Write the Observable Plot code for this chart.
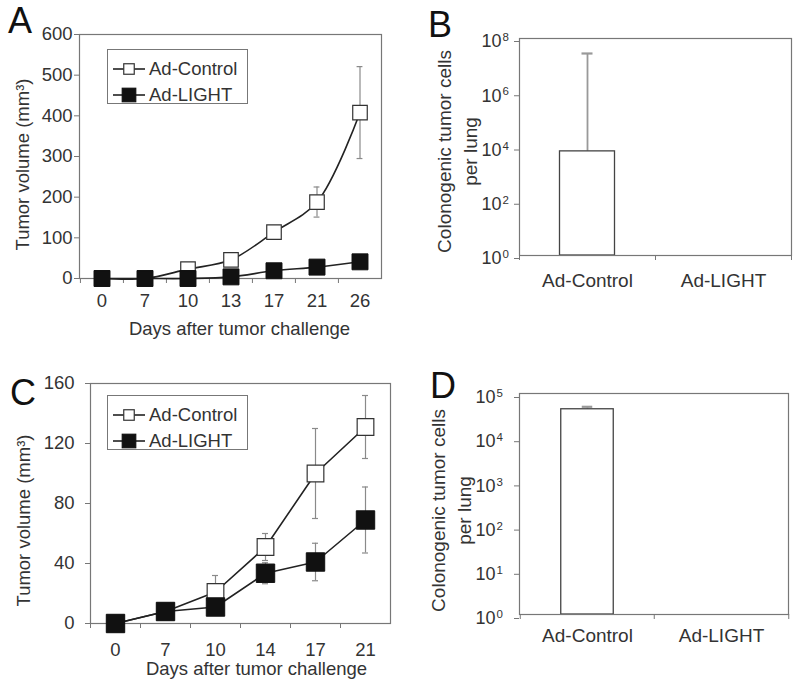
<!DOCTYPE html>
<html><head><meta charset="utf-8">
<script src="https://cdn.jsdelivr.net/npm/d3@7"></script>
<script src="https://cdn.jsdelivr.net/npm/@observablehq/plot@0.6"></script>
<style>
body{margin:0;background:#fff;}
#fig{position:relative;width:800px;height:688px;font-family:"Liberation Sans",Arial,sans-serif;color:#333;overflow:hidden;}
.panel{position:absolute;}
.letter{position:absolute;font-size:36px;line-height:1;color:#111;}
.legend{position:absolute;border:1.2px solid #777;box-sizing:border-box;background:#fff;font-size:18.5px;width:141px;}
.legend .lab{position:absolute;left:41px;line-height:1;white-space:nowrap;color:#333;}
.legend svg{position:absolute;left:5px;}
</style></head><body><div id="fig"></div>
<script>
// ---------- data ----------
const daysA = ["0","7","10","13","17","21","26"];
const controlA = [0, 0, 23, 46, 114, 188, 408];
const controlAErr = [0, 0, 0, 0, 0, 37, 113];
const lightA = [0, 0, 0, 4, 19, 28, 41];
const lightAErr = [0, 0, 0, 0, 0, 0, 0];
const yTicksA = [0, 100, 200, 300, 400, 500, 600];

const daysC = ["0","7","10","14","17","21"];
const controlC = [0, 8, 21, 51, 100, 131];
const controlCErr = [0, 1, 11, 9, 30, 21];
const lightC = [0, 8, 11, 33.5, 41, 69];
const lightCErr = [0, 1, 3, 7, 12.5, 22];
const yTicksC = [0, 40, 80, 120, 160];

const groups = ["Ad-Control", "Ad-LIGHT"];
const coloniesB = [6900, 0];
const coloniesBUpper = [2.8e7, 0];
const ticksB = [1, 1e2, 1e4, 1e6, 1e8];
const coloniesD = [44000, 0];
const coloniesDUpper = [50000, 0];
const ticksD = [1, 1e1, 1e2, 1e3, 1e4, 1e5];

const seriesNames = ["Ad-Control", "Ad-LIGHT"];
const xTitle = "Days after tumor challenge";
const yTitleLine = "Tumor volume (mm³)";
const yTitleBar = "Colonogenic tumor cells\nper lung";

// ---------- helpers ----------
const fig = document.getElementById("fig");
const baseStyle = {fontFamily: '"Liberation Sans", Arial, sans-serif', fontSize: "18.5px", color: "#333", background: "transparent", overflow: "visible"};

function rows(days, vals, errs) {
  return days.map((d, i) => ({day: d, v: vals[i], lo: vals[i] - errs[i], hi: vals[i] + errs[i], e: errs[i]}));
}

function place(node, left, top) {
  const div = document.createElement("div");
  div.className = "panel";
  div.style.left = left + "px";
  div.style.top = top + "px";
  div.appendChild(node);
  fig.appendChild(div);
}

function lineChart(o) {
  const C = rows(o.days, o.control, o.controlErr);
  const L = rows(o.days, o.light, o.lightErr);
  const bw = (o.width - o.mL - o.mR) / o.days.length;
  const capIn = (bw - o.capW) / 2;
  const errMarks = (R) => {
    const E = R.filter(d => d.e > 0);
    return [
      Plot.ruleX(E, {x: "day", y1: "lo", y2: "hi", stroke: "#8a8a8a", strokeWidth: 1.2}),
      Plot.tickY(E, {x: "day", y: "hi", insetLeft: capIn, insetRight: capIn, stroke: "#8a8a8a", strokeWidth: 1.2}),
      Plot.tickY(E, {x: "day", y: "lo", insetLeft: capIn, insetRight: capIn, stroke: "#8a8a8a", strokeWidth: 1.2})
    ];
  };
  return Plot.plot({
    width: o.width, height: o.height,
    marginLeft: o.mL, marginTop: o.mT, marginRight: o.mR, marginBottom: o.mB,
    style: baseStyle,
    x: {type: "band", domain: o.days, padding: 0},
    y: {domain: [0, o.yMax]},
    marks: [
      Plot.frame({stroke: "#777", strokeWidth: 1.2}),
      Plot.axisY({ticks: o.yTicks, tickSize: 5, tickPadding: o.yPad, stroke: "#777", fill: "#333", label: null}),
      Plot.axisX({tickSize: 5, tickFormat: () => "", dx: -bw / 2, stroke: "#777", label: null}),
      Plot.axisX({tickSize: 0, tickPadding: o.xPad, fill: "#333", label: null}),
      Plot.text([xTitle], {text: d => d, frameAnchor: "bottom", textAnchor: "middle", lineAnchor: "middle", dx: o.tDx, dy: o.tDy, fill: "#333"}),
      Plot.text([yTitleLine], {text: d => d, frameAnchor: "left", textAnchor: "middle", lineAnchor: "middle", rotate: -90, dx: o.yTDx, dy: o.yTDy, fill: "#333"}),
      ...errMarks(C),
      Plot.line(C, {x: "day", y: "v", stroke: "#222", strokeWidth: 1.6, curve: o.curve}),
      Plot.dot(C, {x: "day", y: "v", symbol: "square", r: o.rW, fill: "white", stroke: "#333", strokeWidth: 1.2}),
      ...errMarks(L),
      Plot.line(L, {x: "day", y: "v", stroke: "#222", strokeWidth: 1.6, curve: o.curve}),
      Plot.dot(L, {x: "day", y: "v", symbol: "square", r: o.rB, fill: "#111", stroke: "#111", strokeWidth: 1})
    ]
  });
}

function barChart(o) {
  const R = groups.map((g, i) => ({g, v: o.values[i], hi: o.uppers[i]})).filter(d => d.v > 0);
  const bw = (o.width - o.mL - o.mR) / groups.length;
  const capIn = (bw - o.capW) / 2;
  return Plot.plot({
    width: o.width, height: o.height,
    marginLeft: o.mL, marginTop: o.mT, marginRight: o.mR, marginBottom: o.mB,
    style: {...baseStyle, fontSize: "19px"},
    x: {type: "band", domain: groups, padding: 0},
    y: {type: "log", domain: o.domain},
    marks: [
      Plot.ruleX(R, {x: "g", y1: "v", y2: "hi", stroke: "#999", strokeWidth: 1.8}),
      Plot.tickY(R, {x: "g", y: "hi", insetLeft: capIn, insetRight: capIn, stroke: "#999", strokeWidth: 2.2}),
      Plot.barY(R, {x: "g", y1: o.domain[0], y2: "v", fill: "white", stroke: "#444", strokeWidth: 1.3, insetLeft: o.barInset, insetRight: o.barInset}),
      Plot.frame({stroke: "#777", strokeWidth: 1.2}),
      Plot.axisY({ticks: o.ticks, tickSize: 5, tickPadding: o.yPad, tickFormat: () => "10", stroke: "#777", fill: "#333", dy: o.lDy, fontSize: 18, label: null}),
      Plot.text(o.ticks, {y: d => d, frameAnchor: "left", text: d => String(Math.round(Math.log10(d))), dx: o.expDx, dy: o.lDy - 4, textAnchor: "start", fontSize: 11.5, fill: "#333"}),
      Plot.axisX({tickSize: 5, tickFormat: () => "", dx: -bw / 2, stroke: "#777", label: null}),
      Plot.axisX({ticks: [groups[groups.length - 1]], tickSize: 5, tickFormat: () => "", dx: bw / 2, stroke: "#777", label: null}),
      Plot.axisX({tickSize: 0, tickPadding: o.xPad, fill: "#333", label: null}),
      Plot.text([yTitleBar], {text: d => d, frameAnchor: "left", textAnchor: "middle", lineAnchor: "middle", rotate: -90, dx: o.yTDx, dy: o.yTDy, lineHeight: 1.36, fill: "#333"})
    ]
  });
}

function legend(left, top) {
  const div = document.createElement("div");
  div.className = "legend";
  div.style.left = left + "px";
  div.style.top = top + "px";
  div.style.height = "55px";
  const entries = [
    {name: seriesNames[0], cy: 19, fill: "white", stroke: "#333", size: 10.5},
    {name: seriesNames[1], cy: 45, fill: "#111", stroke: "#111", size: 13.5}
  ];
  for (const e of entries) {
    const ns = "http://www.w3.org/2000/svg";
    const svg = document.createElementNS(ns, "svg");
    svg.setAttribute("width", 32); svg.setAttribute("height", 18);
    svg.style.top = (e.cy - 9) + "px";
    const ln = document.createElementNS(ns, "line");
    ln.setAttribute("x1", 0); ln.setAttribute("x2", 32); ln.setAttribute("y1", 9); ln.setAttribute("y2", 9);
    ln.setAttribute("stroke", "#222"); ln.setAttribute("stroke-width", 1.6);
    svg.appendChild(ln);
    const r = document.createElementNS(ns, "rect");
    r.setAttribute("x", 16 - e.size / 2); r.setAttribute("y", 9 - e.size / 2);
    r.setAttribute("width", e.size); r.setAttribute("height", e.size);
    r.setAttribute("fill", e.fill); r.setAttribute("stroke", e.stroke); r.setAttribute("stroke-width", 1.2);
    svg.appendChild(r);
    div.appendChild(svg);
    const t = document.createElement("div");
    t.className = "lab";
    t.textContent = e.name;
    t.style.top = (e.cy - 9.5) + "px";
    div.appendChild(t);
  }
  fig.appendChild(div);
}

function letter(ch, left, baseline) {
  const d = document.createElement("div");
  d.className = "letter";
  d.textContent = ch;
  d.style.left = left + "px";
  d.style.top = (baseline - 30.5) + "px";
  fig.appendChild(d);
}

// ---------- panels ----------
place(lineChart({
  days: daysA, control: controlA, controlErr: controlAErr, light: lightA, lightErr: lightAErr,
  yMax: 600, yTicks: yTicksA, width: 400, height: 340, mL: 79, mT: 34, mR: 19, mB: 62,
  yPad: 2, xPad: 15, tDx: 9, tDy: 51, yTDx: -56.5, yTDy: 8, capW: 6, rW: 8.2, rB: 9, curve: "catmull-rom"
}), 0, 0);

place(barChart({
  values: coloniesB, uppers: coloniesBUpper, ticks: ticksB, domain: [1, 1e8],
  width: 400, height: 340, mL: 119, mT: 38, mR: 9, mB: 85,
  yPad: 13, expDx: -17, lDy: 3, xPad: 18, capW: 11, barInset: 40.5, yTDx: -64, yTDy: 4.5
}), 400, 0);

place(lineChart({
  days: daysC, control: controlC, controlErr: controlCErr, light: lightC, lightErr: lightCErr,
  yMax: 160, yTicks: yTicksC, width: 400, height: 348, mL: 90, mT: 43, mR: 10, mB: 65,
  yPad: 11, xPad: 19, tDx: 16, tDy: 46, yTDx: -66.5, yTDy: 17, capW: 6, rW: 9.4, rB: 10.4, curve: "linear"
}), 0, 340);

place(barChart({
  values: coloniesD, uppers: coloniesDUpper, ticks: ticksD, domain: [1, 1e5],
  width: 400, height: 348, mL: 119, mT: 53, mR: 12, mB: 74,
  yPad: 19, expDx: -23, lDy: 4, xPad: 14, capW: 11, barInset: 40.75, yTDx: -70, yTDy: 6.5
}), 400, 340);

legend(107, 49);
legend(107, 395);

letter("A", 8, 33);
letter("B", 428, 37);
letter("C", 10, 405);
letter("D", 430, 398);
</script>
</body></html>
